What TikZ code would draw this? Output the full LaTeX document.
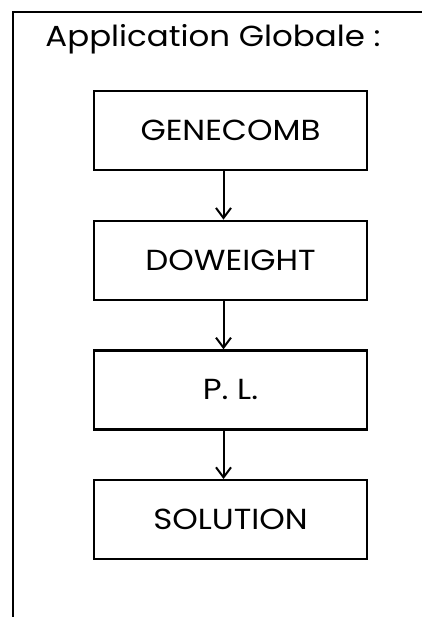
\documentclass[tikz,border=0pt]{standalone}
\usepackage{fontspec}
\setmainfont[FakeStretch=1.12]{Poppins}
\usetikzlibrary{arrows.meta}
\usetikzlibrary{positioning}

\tikzset{
    etape/.style={draw, line width=2.2pt, minimum width=273pt, minimum height=79pt,
        inner sep=0pt, font=\fontsize{29}{32}\selectfont},
    flux/.style={line width=2pt, -{Straight Barb[length=10pt, width=15pt, line width=2pt]}},
}

\begin{document}
\begin{tikzpicture}[x=1pt, y=1pt, node distance=48.5pt]
        \useasboundingbox (0,0) rectangle (422,-617);
        \draw[line width=2.4pt] (13,-617) -- (13,-12) -- (422,-12); % cadre
        \node[font=\fontsize{29}{32}\selectfont] (titre) at (213,-39) {Application Globale :};

        \node[etape] (gene) at (230.5,-130.5) {GENECOMB};
        \node[etape, below= of gene] (dow) {DOWEIGHT};
        \node[etape, below= of dow] (pl) {P. L.};
        \node[etape, below= of pl] (sol) {SOLUTION};

        \draw[flux] ([xshift=-7pt]gene.south) -- ([xshift=-7pt]dow.north);
        \draw[flux] ([xshift=-7pt]dow.south) -- ([xshift=-7pt]pl.north);
        \draw[flux] ([xshift=-7pt]pl.south) -- ([xshift=-7pt]sol.north);
    \end{tikzpicture}
\end{document}
